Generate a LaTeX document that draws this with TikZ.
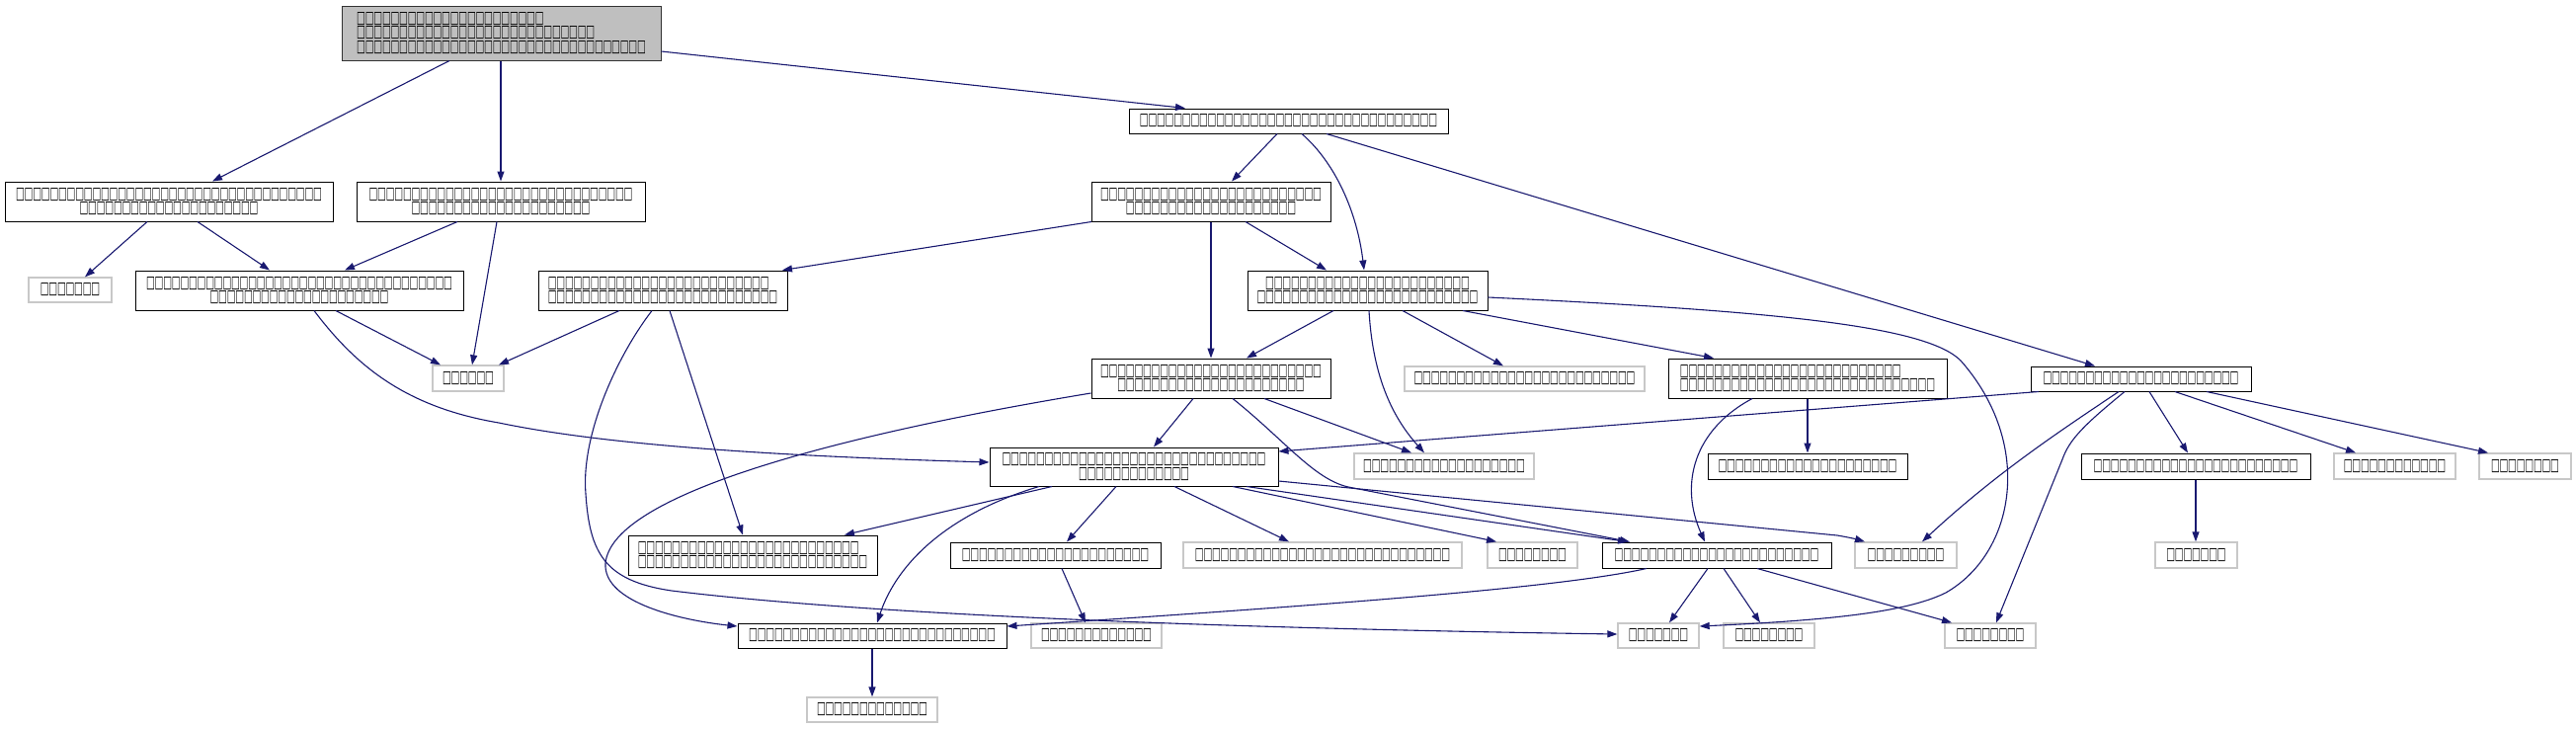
\documentclass[tikz,border=0pt]{standalone}
\usepackage{fontspec}
\usepackage{graphicx}
\usetikzlibrary{arrows.meta}
\newfontfamily\tofufont{DejaVu Sans}
\definecolor{edgeblue}{HTML}{191970}
\definecolor{extgray}{HTML}{C8C8C8}
\definecolor{rootgray}{HTML}{BFBFBF}
\newcommand\tofuone{\makebox[8.6pt]{\resizebox{8.8pt}{11pt}{\tofufont\bfseries □}}}
\newcommand\tf[1]{\ifnum#1>0 \tofuone\expandafter\tf\expandafter{\the\numexpr#1-1\relax}\fi}
\tikzset{
  base/.style={rectangle, inner sep=0pt, align=center, font=\fontsize{10pt}{14.5pt}\selectfont},
  doc/.style={base, draw=black, line width=1pt},
  ext/.style={base, draw=extgray, line width=1.3pt},
  root/.style={base, draw=black!80, fill=rootgray, line width=1pt},
  edge/.style={draw=edgeblue, line width=1.1pt, -{Triangle[length=10pt,width=7pt]}},
}
\begin{document}
\begin{tikzpicture}[x=1pt,y=-1pt]
\fill[white] (0,0) rectangle (2608,737);
\useasboundingbox (0,0) rectangle (2608,737);
% nodes
\node[root, align=left, minimum width=323pt, minimum height=55pt] (n0) at (507.5,33.5) {\tf{22}\\\tf{28}\\\tf{34}};
\node[doc, minimum width=323pt, minimum height=25pt] (n1) at (1304.5,122.5) {\tf{35}};
\node[doc, minimum width=332pt, minimum height=40pt] (n2) at (171,204) {\tf{36}\\\tf{21}};
\node[doc, minimum width=292pt, minimum height=40pt] (n3) at (507,204) {\tf{31}\\\tf{21}};
\node[doc, minimum width=242pt, minimum height=40pt] (n4) at (1226,204) {\tf{26}\\\tf{20}};
\node[ext, minimum width=84pt, minimum height=25pt] (n5) at (71,293.5) {\tf{7}};
\node[doc, minimum width=332pt, minimum height=40pt] (n6) at (303,294) {\tf{36}\\\tf{21}};
\node[doc, align=left, minimum width=252pt, minimum height=40pt] (n7) at (671,294) {\tf{26}\\\tf{27}};
\node[doc, minimum width=243pt, minimum height=40pt] (n8) at (1384.5,294) {\tf{24}\\\tf{26}};
\node[ext, minimum width=72pt, minimum height=26pt] (n9) at (474,383) {\tf{6}};
\node[doc, minimum width=242pt, minimum height=40pt] (n10) at (1226,383) {\tf{26}\\\tf{22}};
\node[ext, minimum width=243pt, minimum height=25pt] (n11) at (1543.5,383.5) {\tf{26}};
\node[doc, align=left, minimum width=282pt, minimum height=40pt] (n12) at (1830,383) {\tf{26}\\\tf{30}};
\node[doc, minimum width=223pt, minimum height=25pt] (n13) at (2167.5,383.5) {\tf{23}};
\node[doc, minimum width=292pt, minimum height=39pt] (n14) at (1148,472.5) {\tf{31}\\\tf{13}};
\node[ext, minimum width=182pt, minimum height=26pt] (n15) at (1462,472) {\tf{19}};
\node[doc, minimum width=202pt, minimum height=26pt] (n16) at (1830,472) {\tf{21}};
\node[doc, minimum width=232pt, minimum height=26pt] (n17) at (2223,472) {\tf{24}};
\node[ext, minimum width=123pt, minimum height=26pt] (n18) at (2424.5,472) {\tf{12}};
\node[ext, minimum width=93pt, minimum height=26pt] (n19) at (2556.5,472) {\tf{8}};
\node[doc, align=left, minimum width=252pt, minimum height=40pt] (n20) at (762,562) {\tf{26}\\\tf{27}};
\node[doc, minimum width=213pt, minimum height=26pt] (n21) at (1068.5,562) {\tf{22}};
\node[ext, minimum width=282pt, minimum height=26pt] (n22) at (1339,562) {\tf{30}};
\node[ext, minimum width=91pt, minimum height=26pt] (n23) at (1551.5,562) {\tf{8}};
\node[doc, minimum width=232pt, minimum height=26pt] (n24) at (1738,562) {\tf{24}};
\node[ext, minimum width=103pt, minimum height=26pt] (n25) at (1929.5,562) {\tf{9}};
\node[ext, minimum width=83pt, minimum height=26pt] (n26) at (2223.5,562) {\tf{7}};
\node[doc, minimum width=272pt, minimum height=25pt] (n27) at (883,643.5) {\tf{29}};
\node[ext, minimum width=132pt, minimum height=25pt] (n28) at (1110,643.5) {\tf{13}};
\node[ext, minimum width=82pt, minimum height=25pt] (n29) at (1679,643.5) {\tf{7}};
\node[ext, minimum width=92pt, minimum height=25pt] (n30) at (1791,643.5) {\tf{8}};
\node[ext, minimum width=92pt, minimum height=25pt] (n31) at (2015,643.5) {\tf{8}};
\node[ext, minimum width=132pt, minimum height=25pt] (n32) at (883,718.5) {\tf{13}};
% edges
\draw[edge] (455,0 |- n0.south) -- (215,0 |- n2.north);
\draw[edge] (507,0 |- n0.south) -- (507,0 |- n3.north);
\draw[edge] (n0.east |- 0,52) -- (1200,0 |- n1.north);
\draw[edge] (1293,0 |- n1.south) -- (1247,0 |- n4.north);
\draw[edge] (1318,0 |- n1.south) .. controls (1352,165) and (1374,215) .. (1381,0 |- n8.north);
\draw[edge] (1343,0 |- n1.south) -- (2121,0 |- n13.north);
\draw[edge] (149,0 |- n2.south) -- (86,0 |- n5.north);
\draw[edge] (200,0 |- n2.south) -- (273,0 |- n6.north);
\draw[edge] (463,0 |- n3.south) -- (349,0 |- n6.north);
\draw[edge] (503,0 |- n3.south) -- (478,0 |- n9.north);
\draw[edge] (340,0 |- n6.south) -- (446,0 |- n9.north);
\draw[edge] (318,0 |- n6.south) .. controls (360,370) and (410,412) .. (505,428) .. controls (620,452) and (800,462) .. (n14.west |- 0,468);
\draw[edge] (1105,0 |- n4.south) -- (792,0 |- n7.north);
\draw[edge] (1226,0 |- n4.south) -- (1226,0 |- n10.north);
\draw[edge] (1261,0 |- n4.south) -- (1343,0 |- n8.north);
\draw[edge] (627,0 |- n7.south) -- (505,0 |- n9.north);
\draw[edge] (678,0 |- n7.south) -- (752,0 |- n20.north);
\draw[edge] (660,0 |- n7.south) .. controls (625,360) and (588,440) .. (593,500) .. controls (597,560) and (612,588) .. (680,598) .. controls (900,625) and (1300,637) .. (n29.west |- 0,642);
\draw[edge] (1350,0 |- n8.south) -- (1262,0 |- n10.north);
\draw[edge] (1386,0 |- n8.south) .. controls (1390,385) and (1412,425) .. (1442,0 |- n15.north);
\draw[edge] (1420,0 |- n8.south) -- (1522,0 |- n11.north);
\draw[edge] (1481,0 |- n8.south) -- (1735,0 |- n12.north);
\draw[edge] (n8.east |- 0,301) .. controls (1800,315) and (1950,330) .. (1985,365) .. controls (2060,450) and (2040,560) .. (1970,600) .. controls (1930,620) and (1850,628) .. (n29.east |- 0,634);
\draw[edge] (1208,0 |- n10.south) -- (1168,0 |- n14.north);
\draw[edge] (1280,0 |- n10.south) -- (1429,0 |- n15.north);
\draw[edge] (1248,0 |- n10.south) .. controls (1300,445) and (1330,485) .. (1365,493) -- (1650,0 |- n24.north);
\draw[edge] (n10.west |- 0,398) .. controls (850,440) and (620,500) .. (613,570) .. controls (610,610) and (690,628) .. (n27.west |- 0,634);
\draw[edge] (1830,0 |- n12.south) -- (1830,0 |- n16.north);
\draw[edge] (1774,0 |- n12.south) .. controls (1715,435) and (1700,490) .. (1726,0 |- n24.north);
\draw[edge] (2064,0 |- n13.south) -- (n14.east |- 0,457);
\draw[edge] (2145,0 |- n13.south) .. controls (2080,440) and (2020,480) .. (1946,0 |- n25.north);
\draw[edge] (2151,0 |- n13.south) .. controls (2110,430) and (2095,445) .. (2088,465) -- (2021,0 |- n31.north);
\draw[edge] (2176,0 |- n13.south) -- (2215,0 |- n17.north);
\draw[edge] (2202,0 |- n13.south) -- (2385,0 |- n18.north);
\draw[edge] (2234,0 |- n13.south) -- (2519,0 |- n19.north);
\draw[edge] (1065,0 |- n14.south) -- (855,0 |- n20.north);
\draw[edge] (1052,0 |- n14.south) .. controls (960,520) and (908,570) .. (888,0 |- n27.north);
\draw[edge] (1130,0 |- n14.south) -- (1080,0 |- n21.north);
\draw[edge] (1189,0 |- n14.south) -- (1305,0 |- n22.north);
\draw[edge] (1248,0 |- n14.south) -- (1515,0 |- n23.north);
\draw[edge] (1262,0 |- n14.south) -- (1648,0 |- n24.north);
\draw[edge] (n14.east |- 0,487) -- (1860,542) .. controls (1872,544) and (1880,546) .. (1888,0 |- n25.north);
\draw[edge] (1075,0 |- n21.south) -- (1099,0 |- n28.north);
\draw[edge] (1667,0 |- n24.south) .. controls (1580,595) and (1350,612) .. (n27.east |- 0,634);
\draw[edge] (1729,0 |- n24.south) -- (1690,0 |- n29.north);
\draw[edge] (1745,0 |- n24.south) -- (1782,0 |- n30.north);
\draw[edge] (1779,0 |- n24.south) -- (1976,0 |- n31.north);
\draw[edge] (883,0 |- n27.south) -- (883,0 |- n32.north);
\draw[edge] (2223,0 |- n17.south) -- (2223,0 |- n26.north);
\end{tikzpicture}
\end{document}
